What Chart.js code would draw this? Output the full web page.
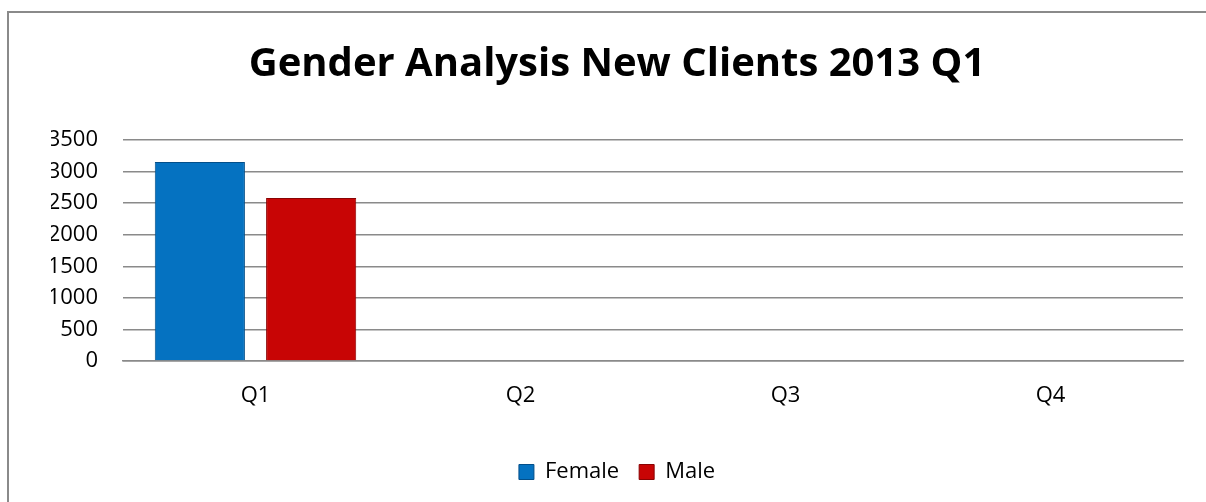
<!DOCTYPE html>
<html>
<head>
<meta charset="utf-8">
<script src="https://cdn.jsdelivr.net/npm/chart.js@4"></script>
<style>
  html, body { margin: 0; padding: 0; background: #fff; overflow: hidden; }
  #frame {
    position: absolute; left: 7px; top: 11px; width: 1220px; height: 520px;
    border: 2px solid #8a8a8a; box-sizing: border-box;
  }
  #wrap { position: absolute; left: 0; top: 0; width: 1206px; height: 502px; }
</style>
</head>
<body>
<div id="frame"></div>
<div id="wrap"><canvas id="genderChart" width="1206" height="502"></canvas></div>
<script>
// Data kuartal
const quarters = ['Q1', 'Q2', 'Q3', 'Q4'];
const femaleValues = [3150, null, null, null];
const maleValues = [2580, null, null, null];
const yTicks = [0, 500, 1000, 1500, 2000, 2500, 3000, 3500];

const FONT = "'Open Sans', 'Noto Sans', sans-serif";

const ctx = document.getElementById('genderChart').getContext('2d');

new Chart(ctx, {
    type: 'bar',
    data: {
        labels: quarters,
        datasets: [
            {
                label: 'Female',
                data: femaleValues,
                backgroundColor: '#0572c1',
                borderColor: '#034f8a',
                borderWidth: 1,
                categoryPercentage: 0.84,
                barPercentage: 0.81
            },
            {
                label: 'Male',
                data: maleValues,
                backgroundColor: '#c80505',
                borderColor: '#8a0303',
                borderWidth: 1,
                categoryPercentage: 0.84,
                barPercentage: 0.81
            }
        ]
    },
    options: {
        responsive: false,
        animation: false,
        layout: {
            padding: { left: 51, right: 23, top: 0, bottom: 9 }
        },
        plugins: {
            title: {
                display: true,
                text: 'Gender Analysis New Clients 2013 Q1',
                color: '#000',
                font: { family: FONT, size: 40, weight: 'bold' },
                padding: { top: 41, bottom: 51 }
            },
            legend: {
                position: 'bottom',
                labels: {
                    color: '#000',
                    font: { family: FONT, size: 22 },
                    boxWidth: 15,
                    boxHeight: 15,
                    padding: 20
                }
            },
            tooltip: { enabled: false }
        },
        scales: {
            x: {
                afterFit: function(scale) {
                    scale.height = 80;
                },
                grid: { display: false, drawTicks: false },
                border: { display: true, color: '#8a8a8a', width: 1.5 },
                ticks: {
                    color: '#000',
                    font: { family: FONT, size: 22 },
                    padding: 22
                }
            },
            y: {
                min: 0,
                max: 3500,
                afterBuildTicks: function(scale) {
                    scale.ticks = yTicks.map(v => ({ value: v }));
                },
                afterFit: function(scale) {
                    scale.width = 72;
                },
                grid: { color: '#8a8a8a', lineWidth: 1.5, drawTicks: false },
                border: { display: false },
                ticks: {
                    color: '#000',
                    font: { family: FONT, size: 22 },
                    padding: 25,
                    callback: function(value) {
                        return String(value);
                    }
                }
            }
        }
    }
});
</script>
</body>
</html>
